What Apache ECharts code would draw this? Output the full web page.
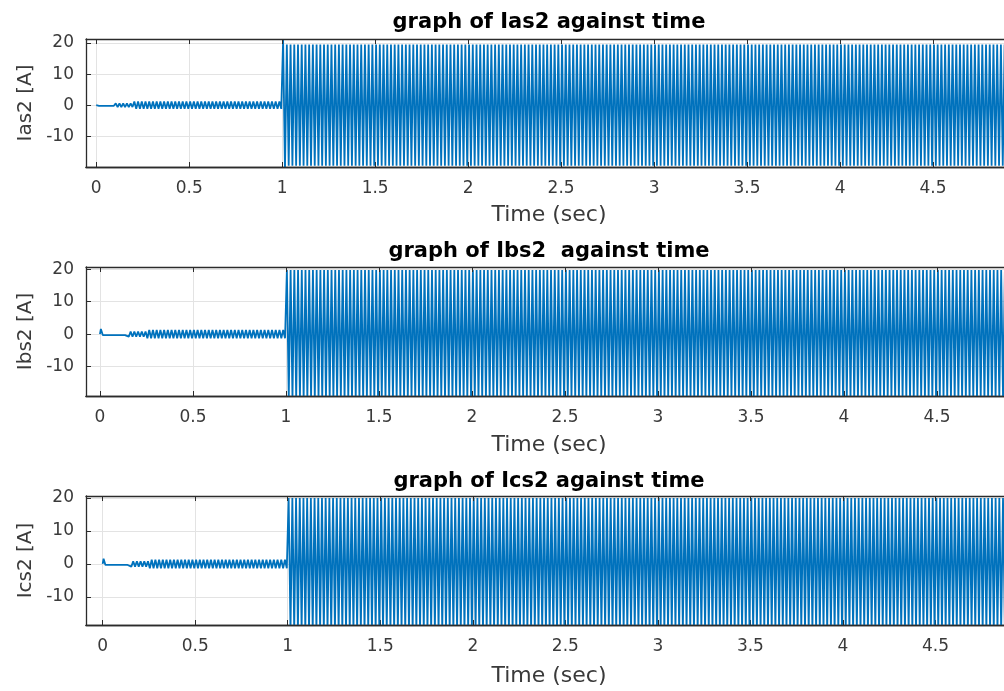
<!DOCTYPE html>
<html>
<head>
<meta charset="utf-8">
<script src="https://cdn.jsdelivr.net/npm/echarts@6/dist/echarts.min.js"></script>
<style>
  html, body { margin: 0; padding: 0; background: #ffffff; }
  #chart { width: 1004px; height: 691px; }
</style>
</head>
<body>
<div id="chart"></div>
<script>
// Tick values shared by the three stator-current panels
const timeTicks = [0, 0.5, 1, 1.5, 2, 2.5, 3, 3.5, 4, 4.5, 5];
const currentTicks = [-10, 0, 10, 20];
const supplyFreqHz = 50;

const panelTitles = ['graph of Ias2 against time', 'graph of Ibs2  against time', 'graph of Ics2 against time'];
const panelYNames = ['Ias2 [A]', 'Ibs2 [A]', 'Ics2 [A]'];
const timeLabel = 'Time (sec)';

// Peak current (A) of each time segment; edges are the segment limits in seconds
const iasEdges = [0, 0.1, 0.2, 1.0, 1.02, 5.0];
const iasPeaks = [0.2, 0.6, 1.2, 21.0, 19.5];
const ibsEdges = [0, 0.012, 0.15, 0.25, 1.0, 5.0];
const ibsPeaks = [1.6, 0.3, 0.8, 1.3, 19.8];
const icsEdges = [0, 0.012, 0.15, 0.25, 1.0, 5.0];
const icsPeaks = [1.6, 0.3, 0.8, 1.3, 20.0];

// Axis limits of each panel
const timeMin = [-0.055, -0.075, -0.09];
const timeMax = 5;
const currentMin = [-19.9, -19.1, -18.5];
const currentMax = [21.3, 20.7, 20.6];

// Alternating positive / negative peaks, one per half cycle of the supply
function buildWave(edges, peaks) {
  const half = 1 / (2 * supplyFreqHz);
  const end = edges[edges.length - 1];
  const pts = [[0, 0]];
  let sign = 1;
  for (let k = 0; ; k++) {
    const t = half / 2 + k * half;
    if (t > end) break;
    let s = 0;
    while (s < peaks.length - 1 && t >= edges[s + 1]) s++;
    pts.push([+t.toFixed(5), sign * peaks[s]]);
    sign = -sign;
  }
  return pts;
}

const waves = [
  buildWave(iasEdges, iasPeaks),
  buildWave(ibsEdges, ibsPeaks),
  buildWave(icsEdges, icsPeaks)
];

const FONT = 'DejaVu Sans';
const AXIS_COLOR = '#2b2b2b';
const LABEL_COLOR = '#3a3a3a';
const GRID_COLOR = '#e3e3e3';
const LINE_COLOR = '#0072BD';

const gridBoxes = [
  { left: 86, top: 39, height: 128, width: 940 },
  { left: 86, top: 267, height: 129, width: 944 },
  { left: 86, top: 496, height: 129, width: 942 }
];
const titleTops = [12, 241, 471];
const timeLabelTops = [204, 434, 665];

const grid = [], xAxis = [], yAxis = [], series = [], title = [];

gridBoxes.forEach((g, i) => {
  grid.push(Object.assign({ outerBoundsMode: 'none', containLabel: false }, g));

  const base = {
    type: 'value', gridIndex: i, min: timeMin[i], max: timeMax
  };
  // bottom axis: labels, grid lines, inward ticks
  xAxis.push(Object.assign({}, base, {
    position: 'bottom',
    axisLine: { show: true, onZero: false, lineStyle: { color: AXIS_COLOR, width: 1.3 } },
    axisTick: { show: true, inside: true, length: 5, customValues: timeTicks, lineStyle: { color: AXIS_COLOR } },
    axisLabel: { show: true, customValues: timeTicks, margin: 13, color: LABEL_COLOR, fontFamily: FONT, fontSize: 17,
      formatter: v => String(v) },
    splitLine: { show: true, lineStyle: { color: GRID_COLOR, width: 1 } }
  }));
  // top box edge with ticks
  xAxis.push(Object.assign({}, base, {
    position: 'top', z: 5,
    axisLine: { show: true, onZero: false, lineStyle: { color: AXIS_COLOR, width: 1.3 } },
    axisTick: { show: true, inside: true, length: 5, customValues: timeTicks, lineStyle: { color: AXIS_COLOR } },
    axisLabel: { show: false },
    splitLine: { show: false }
  }));
  // bottom box edge drawn above the trace
  xAxis.push(Object.assign({}, base, {
    position: 'bottom', z: 5,
    axisLine: { show: true, onZero: false, lineStyle: { color: AXIS_COLOR, width: 1.3 } },
    axisTick: { show: false },
    axisLabel: { show: false },
    splitLine: { show: false }
  }));

  yAxis.push({
    type: 'value', gridIndex: i, position: 'left',
    min: currentMin[i], max: currentMax[i],
    name: panelYNames[i], nameLocation: 'middle', nameGap: 35, nameRotate: 90,
    nameTextStyle: { color: LABEL_COLOR, fontFamily: FONT, fontSize: 20 },
    axisLine: { show: true, onZero: false, lineStyle: { color: AXIS_COLOR, width: 1.3 } },
    axisTick: { show: true, inside: true, length: 5, customValues: currentTicks, lineStyle: { color: AXIS_COLOR } },
    axisLabel: { show: true, customValues: currentTicks, margin: 12, color: LABEL_COLOR, fontFamily: FONT, fontSize: 17 },
    splitLine: { show: true, lineStyle: { color: GRID_COLOR, width: 1 } }
  });

  series.push({
    type: 'line', xAxisIndex: i * 3, yAxisIndex: i,
    data: waves[i], showSymbol: false, symbol: 'none', smooth: false,
    lineStyle: { color: LINE_COLOR, width: 1.8 }, z: 2, silent: true, clip: true
  });

  title.push({
    text: panelTitles[i], left: 549, top: titleTops[i], textAlign: 'center', padding: 0,
    textStyle: { color: '#000000', fontFamily: FONT, fontWeight: 'bold', fontSize: 21 }
  });
  title.push({
    text: timeLabel, left: 549, top: timeLabelTops[i], textAlign: 'center', padding: 0,
    textStyle: { color: LABEL_COLOR, fontFamily: FONT, fontWeight: 'normal', fontSize: 22 }
  });
});

const chart = echarts.init(document.getElementById('chart'), null, { renderer: 'canvas' });
chart.setOption({
  backgroundColor: '#ffffff',
  animation: false,
  title, grid, xAxis, yAxis, series
});
</script>
</body>
</html>
